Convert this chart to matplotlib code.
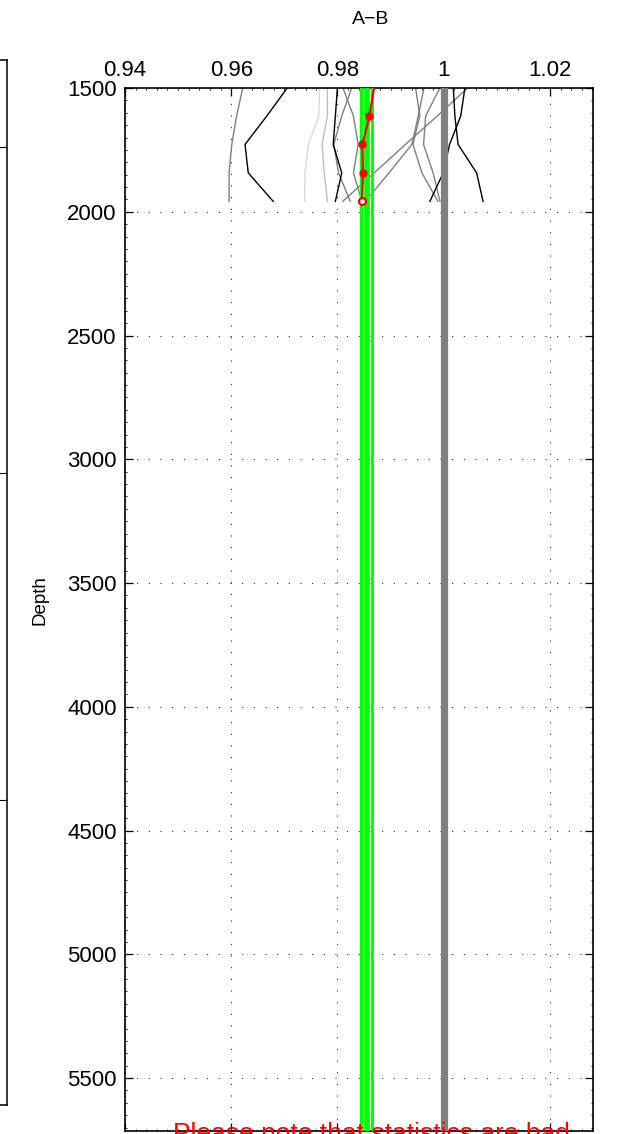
import matplotlib
matplotlib.use('Agg')
import matplotlib.pyplot as plt
from matplotlib.ticker import MultipleLocator, FuncFormatter

plt.rcParams['font.family'] = ['Liberation Sans', 'DejaVu Sans']

# depth levels shared by all profiles
depths = [1498, 1613, 1728, 1843, 1958]

# individual profiles (A-B ratio)
prof_black = [
    [0.9706, 0.9667, 0.9626, 0.9632, 0.9679],
    [0.9800, 0.9796, 0.9792, 0.9808, 0.9796],
    [1.0018, 1.0021, 1.0027, 1.0062, 1.0074],
    [1.0040, 1.0032, 1.0011, 0.9999, 0.9974],
]
prof_gray = [
    [0.9622, 0.9610, 0.9601, 0.9596, 0.9596],
    [0.9827, 0.9808, 0.9793, 0.9802, 0.9824],
    [0.9810, 0.9830, 0.9839, 0.9830, 0.9846],
    [1.0046, 0.9988, 0.9928, 0.9869, 0.9810],
    [0.9963, 0.9952, 0.9940, 0.9897, 0.9852],
    [0.9947, 0.9955, 0.9942, 0.9959, 0.9989],
    [0.9993, 0.9966, 0.9962, 0.9980, 0.9993],
]
prof_light = [
    [0.9766, 0.9765, 0.9745, 0.9739, 0.9738],
    [0.9781, 0.9781, 0.9771, 0.9775, 0.9781],
]
light_cols = ['0.85', '0.75']

# mean profile
mean_prof = [0.9869, 0.9860, 0.9847, 0.9848, 0.9846]

# overall mean and spread, reference value
overall_mean = 0.98552
overall_lo = 0.98442
overall_hi = 0.98653
ref_value = 1.0

x_ticks = [0.94, 0.96, 0.98, 1.00, 1.02]
y_ticks = [1500, 2000, 2500, 3000, 3500, 4000, 4500, 5000, 5500]
x_lim = (0.94, 1.0281)
y_lim = (5714, 1500)

side_ticks = [87, 413, 740]

W, H = 627, 1134
fig = plt.figure(figsize=(W / 100, H / 100), dpi=100)

# neighbour panel, mostly off the left edge
ax0 = fig.add_axes([7 / W - 0.3, (H - 1105) / H, 0.3, (1105 - 60) / H])
ax0.set_ylim(1045, 0)
ax0.set_xticks([])
ax0.set_yticks(side_ticks)
ax0.tick_params(axis='y', left=False, right=True, labelleft=False,
                direction='in', length=6, width=0.8)
for s in ax0.spines.values():
    s.set_linewidth(1.1)

# main panel
ax = fig.add_axes([125 / W, (H - 1131) / H, (593 - 125) / W, (1131 - 88) / H])

for xs, c in zip(prof_light, light_cols):
    ax.plot(xs, depths, color=c, lw=1.0, zorder=2)
for xs in prof_gray:
    ax.plot(xs, depths, color='0.5', lw=1.0, zorder=2)
for xs in prof_black:
    ax.plot(xs, depths, color='black', lw=1.0, zorder=2)

ax.axvline(overall_lo, color='#00ff00', lw=2.45, zorder=3)
ax.axvline(overall_mean, color='#00ff00', lw=4.1, zorder=3)
ax.axvline(overall_hi, color='#00ff00', lw=2.1, zorder=3)
ax.axvline(ref_value, color='0.5', lw=5.2, zorder=3)

ax.plot(mean_prof, depths, color='red', lw=1.6, marker='o', ms=5,
        markevery=[1, 2, 3], zorder=4)
ax.plot(mean_prof[-1:], depths[-1:], 'o', color='red', mfc='white',
        mec='red', mew=1.6, ms=5, zorder=5)

ax.set_xlim(*x_lim)
ax.set_ylim(*y_lim)
ax.set_xticks(x_ticks)
ax.set_yticks(y_ticks)
ax.xaxis.set_major_formatter(FuncFormatter(lambda v, p: f'{v:g}'))
ax.xaxis.set_minor_locator(MultipleLocator(0.002))
ax.yaxis.set_minor_locator(MultipleLocator(50))
ax.tick_params(which='both', direction='in', top=True, bottom=True,
               left=True, right=True, labeltop=True, labelbottom=False)
ax.tick_params(which='major', length=6, width=0.9, labelsize=16)
ax.tick_params(which='minor', length=1.6, width=0.6)
ax.tick_params(axis='x', which='major', pad=5)
ax.tick_params(axis='y', which='major', pad=6)
ax.grid(True, which='major', color='black', lw=0.7, ls=(0, (1, 11)))
ax.set_axisbelow(True)
for s in ax.spines.values():
    s.set_linewidth(1.2)

fig.text(371 / W, 1 - 20 / H, 'A\u2212B', ha='center', va='center', fontsize=14)
fig.text(40 / W, 1 - 600 / H, 'Depth', rotation=90, ha='center', va='center',
         fontsize=13.5)
fig.text(371 / W, -7 / H, 'Please note that statistics are bad', color='red',
         ha='center', va='baseline', fontsize=19)

fig.savefig('out.png', dpi=100)
